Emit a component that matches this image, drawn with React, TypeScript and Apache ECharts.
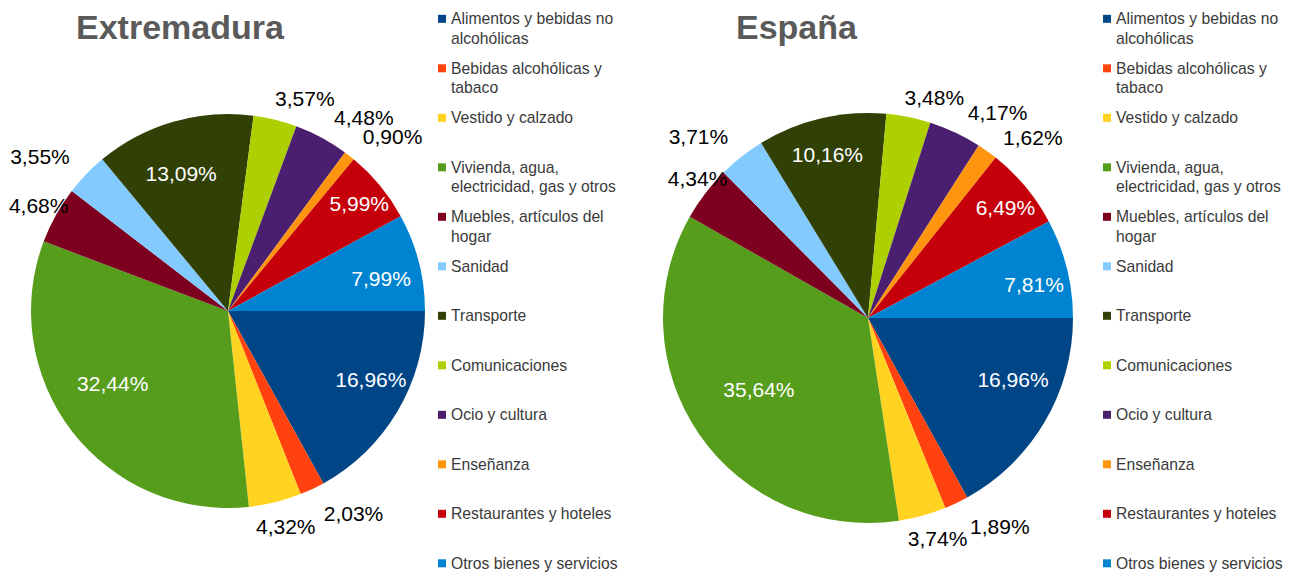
import React, { useEffect, useRef } from "react";
import * as echarts from "echarts";

const categories = [
  "Alimentos y bebidas no alcohólicas",
  "Bebidas alcohólicas y tabaco",
  "Vestido y calzado",
  "Vivienda, agua, electricidad, gas y otros",
  "Muebles, artículos del hogar",
  "Sanidad",
  "Transporte",
  "Comunicaciones",
  "Ocio y cultura",
  "Enseñanza",
  "Restaurantes y hoteles",
  "Otros bienes y servicios",
];

const legendLabels = [
  "Alimentos y bebidas no\nalcohólicas",
  "Bebidas alcohólicas y\ntabaco",
  "Vestido y calzado",
  "Vivienda, agua,\nelectricidad, gas y otros",
  "Muebles, artículos del\nhogar",
  "Sanidad",
  "Transporte",
  "Comunicaciones",
  "Ocio y cultura",
  "Enseñanza",
  "Restaurantes y hoteles",
  "Otros bienes y servicios",
];

const extremaduraValues = [16.96, 2.03, 4.32, 32.44, 4.68, 3.55, 13.09, 3.57, 4.48, 0.9, 5.99, 7.99];
const espanaValues = [16.96, 1.89, 3.74, 35.64, 4.34, 3.71, 10.16, 3.48, 4.17, 1.62, 6.49, 7.81];

const colors = [
  "#004586", "#ff420e", "#ffd320", "#579d1c", "#7e0021", "#83caff",
  "#314004", "#aecf00", "#4b1f6f", "#ff950e", "#c5000b", "#0084d1",
];

const insideLabel = [true, false, false, true, false, false, true, false, false, false, true, true];

const titles = ["Extremadura", "España"];

// label nudges (layout only), [dx, dy] per slice
const extLabelNudge = [[13, -8], [-2, 6], [-29, 5], [4, -20], [35, 0], [3, -4], [-5, 7], [-10, -2], [-2, -3], [-4, -4], [15, -12], [7, 5]];
const espLabelNudge = [[10, -18], [0, 6], [-25, 4], [20, -17], [43, -3], [4, -4], [-5, -11], [-13, 0], [-1, -2], [-1, 2], [17, -10], [14, 5]];

const FONT = "'Liberation Sans', Arial, sans-serif";

const fmt = (v: number) => v.toFixed(2).replace(".", ",") + "%";

export default function App() {
  const ref = useRef<HTMLDivElement>(null);
  useEffect(() => {
    document.body.style.margin = "0";
    if (!ref.current) return;
    const chart = echarts.init(ref.current, null, { renderer: "svg" });

    const pies = [
      { values: extremaduraValues, center: [228, 311], r: 197, legendX: 438, titleX: 76, nudge: extLabelNudge },
      { values: espanaValues, center: [868, 318], r: 205, legendX: 1103, titleX: 736, nudge: espLabelNudge },
    ];

    const series: any[] = [];
    const legends: any[] = [];
    pies.forEach((p, pi) => {
      series.push({
        type: "pie",
        name: titles[pi],
        center: p.center,
        radius: [0, p.r],
        startAngle: 0,
        clockwise: true,
        silent: true,
        label: { show: false },
        labelLine: { show: false },
        itemStyle: { borderWidth: 0 },
        data: categories.map((c, i) => ({
          name: c,
          value: p.values[i],
          itemStyle: { color: colors[i] },
        })),
      });
      series.push({
        type: "pie",
        name: titles[pi] + " etiquetas",
        center: p.center,
        radius: [p.r / 2, p.r],
        startAngle: 0,
        clockwise: true,
        silent: true,
        avoidLabelOverlap: false,
        itemStyle: { color: "rgba(0,0,0,0)", borderWidth: 0 },
        labelLine: { show: false, length: 20, length2: 0 },
        label: {
          fontFamily: FONT,
          fontSize: 21,
          formatter: (d: any) => fmt(d.value),
        },
        labelLayout: (params: any) => {
          const n = p.nudge[params.dataIndex] || [0, 0];
          return { hideOverlap: false, dx: n[0], dy: n[1] };
        },
        data: categories.map((c, i) => ({
          name: c,
          value: p.values[i],
          label: insideLabel[i]
            ? { position: "inside", color: "#ffffff" }
            : { position: "outside", color: "#000000" },
        })),
      });
      categories.forEach((c, i) => {
        const twoLine = legendLabels[i].includes("\n");
        const L = 19.5;
        const y0 = 18.8 + i * 49.5;
        legends.push({
          orient: "vertical",
          left: p.legendX,
          top: y0 - (twoLine ? 1.5 * L : 0.5 * L),
          padding: 0,
          itemGap: 0,
          itemWidth: 8,
          itemHeight: 8,
          icon: "rect",
          selectedMode: false,
          // an empty first line keeps the icon level with the label's first line
          formatter: () => (twoLine ? "\n" + legendLabels[i] : legendLabels[i]),
          textStyle: {
            fontFamily: FONT,
            fontSize: 15.7,
            lineHeight: L,
            color: "#3a3a3a",
          },
          data: [c],
        });
      });
    });

    chart.setOption({
      animation: false,
      backgroundColor: "#ffffff",
      title: pies.map((p, pi) => ({
        text: titles[pi],
        left: p.titleX,
        top: 10,
        padding: 0,
        textStyle: { fontFamily: FONT, fontSize: 34, fontWeight: "bold", color: "#5a5a5a" },
      })),
      legend: legends,
      series,
    });
    return () => chart.dispose();
  }, []);
  return <div ref={ref} style={{ width: 1295, height: 574 }} />;
}
